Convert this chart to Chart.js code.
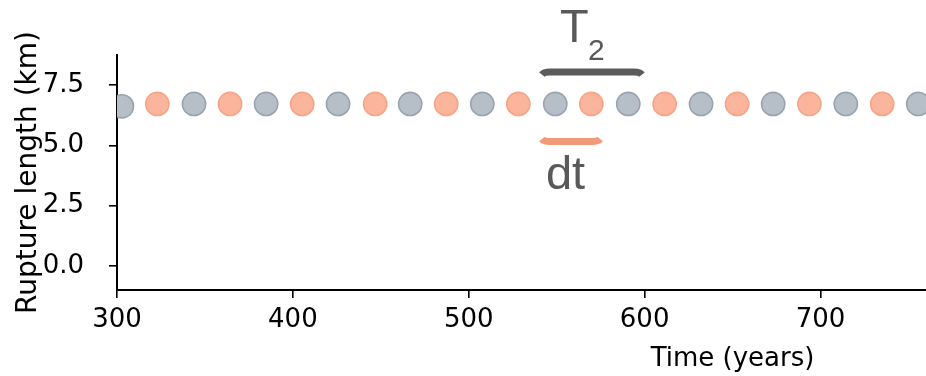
<!DOCTYPE html>
<html>
<head>
<meta charset="utf-8">
<script src="https://cdn.jsdelivr.net/npm/chart.js@4.4.0/dist/chart.umd.min.js"></script>
<style>
  html, body { margin: 0; padding: 0; background: #fff; }
  #wrap { width: 926px; height: 376px; }
</style>
</head>
<body>
<div id="wrap"><canvas id="chart" width="926" height="376"></canvas></div>
<script>
// Event times (years) and rupture lengths (km)
const greyTimes = [302.8, 343.8, 384.8, 425.7, 466.7, 507.7, 549.2, 590.7, 632.1, 673.1, 714.4, 755.6];
const greyLengths = [6.62, 6.72, 6.72, 6.72, 6.72, 6.72, 6.72, 6.72, 6.72, 6.72, 6.72, 6.72];
const orangeTimes = [322.9, 364.3, 405.3, 446.8, 487.2, 528.2, 569.7, 611.4, 652.6, 693.7, 735.1];
const orangeLengths = [6.72, 6.72, 6.72, 6.72, 6.72, 6.72, 6.72, 6.72, 6.72, 6.72, 6.72];

const xTicks = [300, 400, 500, 600, 700];
const yTicks = [0.0, 2.5, 5.0, 7.5];

// bracket annotations, in data units
const t2Span = [541.6, 598.5];
const t2Level = 8.04;
const dtSpan = [541.6, 574.7];
const dtLevel = 5.16;

// the original axis ran to 1000 yrs, the picture is cropped at ~760
const xFullRange = [300, 1000];

const font = '"DejaVu Sans", sans-serif';
const labelFont = '"Liberation Sans", Arial, sans-serif';

function bracket(ctx, x1, x2, yc, bend, color) {
    ctx.beginPath();
    ctx.moveTo(x1, yc + bend);
    ctx.quadraticCurveTo(x1 + 2, yc, x1 + 8, yc);
    ctx.lineTo(x2 - 8, yc);
    ctx.quadraticCurveTo(x2 - 2, yc, x2, yc + bend);
    ctx.strokeStyle = color;
    ctx.lineWidth = 7;
    ctx.lineCap = 'butt';
    ctx.stroke();
}

const annotations = {
    id: 'annotations',
    afterDraw(chart) {
        const { ctx, scales: { x, y } } = chart;
        ctx.save();
        ctx.textBaseline = 'alphabetic';
        ctx.textAlign = 'left';

        // T2 bracket and label
        const t2x = x.getPixelForValue(t2Span[0]);
        const t2y = y.getPixelForValue(t2Level);
        bracket(ctx, t2x, x.getPixelForValue(t2Span[1]), t2y, 2.5, '#5b5b5b');
        ctx.fillStyle = '#595959';
        ctx.font = '47px ' + labelFont;
        ctx.fillText('T', t2x + 18, t2y - 30);
        ctx.font = '30px ' + labelFont;
        ctx.fillText('2', t2x + 46, t2y - 12);

        // dt bracket and label
        const dtx = x.getPixelForValue(dtSpan[0]);
        const dty = y.getPixelForValue(dtLevel);
        bracket(ctx, dtx, x.getPixelForValue(dtSpan[1]), dty, -2.5, '#f39a7b');
        ctx.fillStyle = '#595959';
        ctx.font = '47px ' + labelFont;
        ctx.fillText('dt', dtx + 4, dty + 47);

        // x axis title, centred on the full (uncropped) axis
        ctx.fillStyle = '#000';
        ctx.font = '26px ' + font;
        ctx.textAlign = 'center';
        ctx.fillText('Time (years)', x.getPixelForValue((xFullRange[0] + xFullRange[1]) / 2), 366);
        ctx.restore();
    }
};

const axisCommon = {
    border: { display: true, color: '#000', width: 2 },
    grid: { display: true, drawOnChartArea: false, drawTicks: true, tickLength: 8, color: '#000', lineWidth: 1.6 },
};

new Chart(document.getElementById('chart'), {
    type: 'scatter',
    data: {
        datasets: [
            {
                label: 'grey',
                data: greyTimes.map((t, i) => ({ x: t, y: greyLengths[i] })),
                backgroundColor: '#b6bfc7',
                borderColor: '#97a3ae',
                borderWidth: 1.6,
                pointRadius: 11.6,
                clip: 0
            },
            {
                label: 'orange',
                data: orangeTimes.map((t, i) => ({ x: t, y: orangeLengths[i] })),
                backgroundColor: '#fab59c',
                borderColor: '#f5a486',
                borderWidth: 1.6,
                pointRadius: 11.6,
                clip: 0
            }
        ]
    },
    options: {
        responsive: false,
        animation: false,
        layout: { autoPadding: false, padding: { top: 55, right: 0, bottom: 0, left: 0 } },
        plugins: {
            legend: { display: false },
            tooltip: { enabled: false }
        },
        scales: {
            x: {
                ...axisCommon,
                type: 'linear',
                min: 300,
                max: 760,
                afterBuildTicks: s => { s.ticks = xTicks.map(v => ({ value: v })); },
                afterFit: s => { s.height = 86; s.paddingLeft = 0; s.paddingRight = 0; },
                ticks: {
                    color: '#000',
                    padding: 7,
                    maxRotation: 0,
                    font: { family: font, size: 26 },
                    callback: v => String(v)
                }
            },
            y: {
                ...axisCommon,
                type: 'linear',
                min: -1,
                max: 8.75,
                afterBuildTicks: s => { s.ticks = yTicks.map(v => ({ value: v })); },
                afterFit: s => { s.width = 117; s.paddingTop = 0; s.paddingBottom = 0; },
                ticks: {
                    color: '#000',
                    padding: 25,
                    font: { family: font, size: 26 },
                    callback: v => v.toFixed(1)
                },
                title: {
                    display: true,
                    text: 'Rupture length (km)',
                    color: '#000',
                    padding: { top: 12, bottom: 0 },
                    font: { family: font, size: 28 }
                }
            }
        }
    },
    plugins: [annotations]
});
</script>
</body>
</html>
